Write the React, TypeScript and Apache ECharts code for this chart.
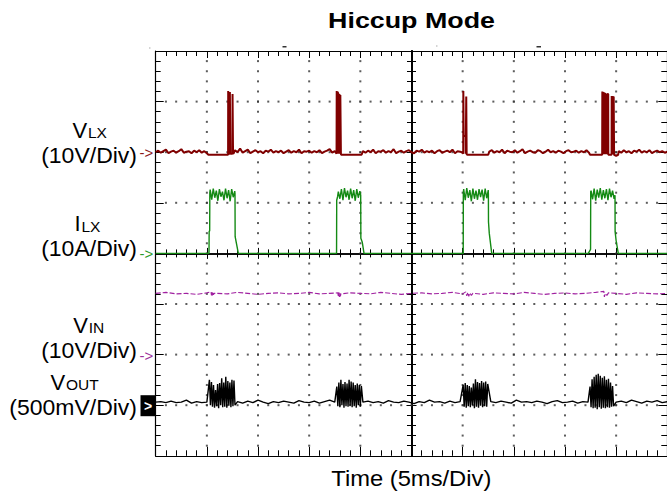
import React, { useEffect, useRef } from 'react';
import * as echarts from 'echarts';

const W = 667;
const H = 492;
const FONT = 'Liberation Sans, Arial, Helvetica, sans-serif';

// ---- texts ----
const titleText = 'Hiccup Mode';
const xTitleText = 'Time (5ms/Div)';
const channelMain = ['V', 'I', 'V', 'V'];
const channelSub = ['LX', 'LX', 'IN', 'OUT'];
const channelScale = ['(10V/Div)', '(10A/Div)', '(10V/Div)', '(500mV/Div)'];
const channelRef = [2, 0, -2, -3]; // reference level of each channel, in divisions
const channelColor = ['#800000', '#148a14', '#a020a0', '#000000'];
const markerColor = ['#8b1a1a', '#2a9a2a', '#9b309b', '#000000'];

// ---- axes (divisions) ----
const xRange = [-5, 5];
const yRange = [-4, 4];
const majorGridX = [-4, -3, -2, -1, 1, 2, 3, 4];
const majorGridY = [-3, -2, -1, 1, 2, 3];

// ---- V_LX (divisions) ----
const vlxNoise1 = [2.00, 2.03, 1.99, 2.02, 2.05, 1.98, 2.01, 2.03, 1.99, 2.02, 2.06, 1.99, 2.01, 2.02, 1.98, 2.03, 2.00, 2.04, 1.99, 2.02, 1.98];
const vlxEdges1 = [[-3.97, 1.95], [-3.585, 1.95], [-3.583, 3.21], [-3.575, 3.21], [-3.573, 1.97], [-3.552, 1.97], [-3.550, 3.19], [-3.542, 3.18], [-3.540, 1.97], [-3.500, 1.97], [-3.498, 3.15], [-3.490, 3.14], [-3.488, 1.97], [-3.47, 1.99]];
const vlxNoise2 = [2.04, 2.00, 2.07, 1.99, 2.02, 2.05, 1.98, 2.01, 2.04, 2.00, 2.02, 1.98, 2.03, 2.01, 2.05, 1.99, 2.02, 2.00, 2.03, 1.98, 2.01, 2.04, 1.99, 2.02, 2.00, 2.05, 1.98, 2.02, 2.01, 2.03, 1.99, 2.02, 2.00, 2.04, 1.98, 2.01, 2.03, 2.06, 1.99, 2.02];
const vlxEdges2 = [[-1.465, 1.97], [-1.462, 3.21], [-1.455, 3.21], [-1.452, 1.97], [-1.447, 1.97], [-1.445, 3.19], [-1.437, 3.17], [-1.434, 1.97], [-1.429, 1.97], [-1.427, 3.16], [-1.419, 3.15], [-1.416, 1.97], [-1.411, 1.97], [-1.409, 3.15], [-1.401, 3.14], [-1.398, 1.97], [-1.393, 1.97], [-1.391, 3.13], [-1.383, 3.12], [-1.380, 1.97], [-1.375, 1.95], [-0.975, 1.95]];
const vlxNoise3 = [2.02, 1.99, 2.03, 2.00, 2.05, 1.98, 2.02, 2.01, 2.04, 1.99, 2.02, 2.00, 2.06, 1.98, 2.01, 2.03, 1.99, 2.02, 2.04, 2.00, 1.98, 2.03, 2.01, 2.05, 1.99, 2.02, 2.00, 2.03, 1.98, 2.02, 2.04, 1.99, 2.01, 2.03, 2.00, 2.05, 1.98, 2.02, 2.01, 1.99];
const vlxEdges3 = [[1.011, 1.97], [1.013, 3.21], [1.018, 3.21], [1.020, 2.32], [1.058, 2.32], [1.060, 1.97], [1.068, 1.97], [1.070, 3.10], [1.076, 3.09], [1.078, 1.96], [1.09, 1.95], [1.50, 1.95]];
const vlxNoise4 = [2.01, 2.04, 1.99, 2.02, 2.00, 2.05, 1.98, 2.03, 2.01, 2.00, 2.04, 1.99, 2.02, 2.06, 1.98, 2.01, 2.03, 2.00, 1.99, 2.04, 2.02, 1.98, 2.01, 2.05, 2.00, 2.02, 1.99, 2.03, 2.01, 1.98, 2.02, 2.04, 2.00, 2.01, 2.03, 1.99, 2.02, 2.00, 2.04, 1.99];
const vlxEdges4 = [[3.49, 1.95], [3.727, 1.95], [3.730, 3.20], [3.738, 3.20], [3.740, 1.96], [3.748, 1.96], [3.750, 3.19], [3.758, 3.19], [3.760, 1.96], [3.768, 1.96], [3.770, 3.18], [3.778, 3.18], [3.780, 1.96], [3.788, 1.96], [3.790, 3.17], [3.798, 3.16], [3.800, 1.96], [3.808, 1.96], [3.810, 3.15], [3.818, 3.15], [3.820, 1.96], [3.828, 1.96], [3.830, 3.15], [3.845, 3.15], [3.847, 1.95], [3.911, 1.95], [3.913, 3.11], [3.921, 3.11], [3.923, 1.96], [3.931, 1.96], [3.933, 3.11], [3.941, 3.10], [3.943, 1.96], [3.950, 1.96], [3.952, 3.10], [3.958, 3.10], [3.960, 1.95], [4.0, 1.93], [4.04, 1.95]];
const vlxNoise5 = [2.02, 1.99, 2.04, 2.00, 2.02, 1.98, 2.03, 2.01, 2.05, 1.99, 2.02, 2.00, 2.04, 1.98, 2.01, 2.03, 2.00, 2.02, 1.99, 2.01];

// ---- I_LX ----
const ilxEdges0 = [[-5, 0], [-3.96, 0], [-3.958, 0.04], [-3.955, 0.43], [-3.945, 0.45], [-3.942, 1.2]];
const ilxTop1 = [1.26, 1.06, 1.28, 1.10, 1.24, 1.04, 1.27, 1.12, 1.22, 1.05, 1.28, 1.09, 1.25, 1.03, 1.27, 1.11, 1.23];
const ilxEdges1 = [[-3.450, 1.18], [-3.447, 0.33], [-3.385, 0], [-1.465, 0], [-1.462, 1.05], [-1.445, 1.12]];
const ilxTop2 = [1.22, 1.08, 1.27, 1.05, 1.29, 1.11, 1.24, 1.06, 1.28, 1.09, 1.25, 1.04, 1.27, 1.10, 1.23];
const ilxEdges2 = [[-0.993, 1.15], [-0.990, 0.30], [-0.962, 0.22], [-0.928, 0], [1.011, 0], [1.013, 1.2]];
const ilxTop3 = [1.27, 1.05, 1.29, 1.10, 1.25, 1.03, 1.28, 1.08, 1.24, 1.06, 1.27, 1.11, 1.26, 1.04, 1.28, 1.09, 1.25];
const ilxEdges3 = [[1.503, 1.18], [1.505, 0.62], [1.52, 0.40], [1.568, 0], [3.456, 0], [3.500, 0.08], [3.503, 1.22]];
const ilxTop4 = [1.24, 1.07, 1.28, 1.04, 1.26, 1.10, 1.29, 1.06, 1.25, 1.09, 1.27, 1.05, 1.28, 1.11, 1.24, 1.08];
const ilxEdges4 = [[3.978, 1.15], [3.980, 0.43], [4.0, 0.25], [4.042, 0], [5, 0]];

// ---- V_IN ----
const vinBase = [-0.79, -0.77, -0.80, -0.79, -0.81, -0.78, -0.79, -0.80, -0.77, -0.79, -0.81, -0.79, -0.78, -0.80, -0.79, -0.77, -0.80, -0.79, -0.81, -0.78, -0.79, -0.80, -0.77, -0.79, -0.81, -0.79, -0.78, -0.80, -0.79, -0.77, -0.80, -0.79, -0.81, -0.78, -0.79, -0.80, -0.77, -0.79, -0.81, -0.79, -0.78, -0.80, -0.79, -0.77, -0.80, -0.79, -0.81, -0.78, -0.79, -0.80, -0.79];
const vinBlob1 = [[-3.92, -0.76], [-3.91, -0.83], [-3.90, -0.76], [-3.89, -0.83], [-3.88, -0.77], [-3.87, -0.82], [-3.86, -0.79]];
const vinBlob2 = [[-1.44, -0.78], [-1.43, -0.86], [-1.42, -0.77], [-1.41, -0.86], [-1.40, -0.78], [-1.39, -0.85], [-1.38, -0.80]];
const vinBlob3 = [[1.06, -0.76], [1.08, -0.84], [1.10, -0.77], [1.12, -0.85], [1.14, -0.78], [1.17, -0.83], [1.22, -0.79]];
const vinBlob4 = [[3.76, -0.75], [3.77, -0.86], [3.79, -0.79], [3.82, -0.83], [3.85, -0.78]];

// ---- V_OUT ----
const voutBase1 = [-2.94, -2.93, -2.95, -2.92, -2.95, -2.94, -2.90, -2.96, -2.93, -2.95, -2.94];
const voutBurst1 = [-2.50, -3.00, -2.54, -3.03, -2.60, -3.05, -2.70, -3.02, -2.58, -3.06, -2.56, -3.00, -2.47, -3.04, -2.55, -3.03, -2.44, -3.05, -2.52, -3.01, -2.55, -3.04, -2.50, -3.02, -2.51, -3.00];
const voutBase2 = [-2.93, -2.96, -2.92, -2.95, -2.90, -2.94, -2.97, -2.93, -2.95, -2.92, -2.94, -2.96, -2.91, -2.94, -2.95, -2.92, -2.96, -2.93, -2.90, -2.94];
const voutBurst2 = [-2.63, -3.02, -2.55, -3.04, -2.50, -3.00, -2.58, -3.05, -2.54, -3.02, -2.57, -3.03, -2.50, -3.01, -2.53, -3.04, -2.55, -3.02, -2.60, -3.05, -2.57, -3.00, -2.60, -3.03, -2.62];
const voutBase3 = [-2.94, -2.92, -2.95, -2.93, -2.96, -2.91, -2.94, -2.95, -2.92, -2.94, -2.97, -2.93, -2.95, -2.90, -2.94, -2.93, -2.96, -2.92, -2.95, -2.93];
const voutBurst3 = [-2.60, -3.03, -2.56, -3.05, -2.60, -3.02, -2.62, -3.04, -2.65, -3.00, -2.57, -3.06, -2.49, -3.03, -2.54, -3.05, -2.56, -3.01, -2.52, -3.04, -2.55, -3.02, -2.53, -3.03, -2.58];
const voutBase4 = [-2.93, -2.95, -2.92, -2.94, -2.96, -2.90, -2.94, -2.93, -2.95, -2.92, -2.94, -2.97, -2.93, -2.91, -2.95, -2.94, -2.92, -2.96, -2.93, -2.94];
const voutBurst4 = [-2.63, -3.04, -2.49, -3.06, -2.44, -3.05, -2.40, -3.08, -2.38, -3.04, -2.42, -3.07, -2.46, -3.05, -2.43, -3.06, -2.50, -3.04, -2.48, -3.05, -2.55, -3.03, -2.62, -3.02];
const voutBase5 = [-2.94, -2.92, -2.95, -2.90, -2.93, -2.96, -2.92, -2.94, -2.91, -2.95, -2.93];

// sampled segment: values at a fixed sample interval starting at t0
const seq = (t0: number, dt: number, vals: number[]) =>
  vals.map((v, i) => [Math.round((t0 + i * dt) * 10000) / 10000, v]);

const vlxData = [
  ...seq(-5, 0.05, vlxNoise1), ...vlxEdges1,
  ...seq(-3.45, 0.05, vlxNoise2), ...vlxEdges2,
  ...seq(-0.95, 0.05, vlxNoise3), ...vlxEdges3,
  ...seq(1.52, 0.05, vlxNoise4), ...vlxEdges4,
  ...seq(4.05, 0.05, vlxNoise5),
];
const ilxData = [
  ...ilxEdges0, ...seq(-3.935, 0.03, ilxTop1),
  ...ilxEdges1, ...seq(-1.43, 0.03, ilxTop2),
  ...ilxEdges2, ...seq(1.02, 0.03, ilxTop3),
  ...ilxEdges3, ...seq(3.51, 0.03, ilxTop4),
  ...ilxEdges4,
];
const vinData = [...seq(-5, 0.2, vinBase), ...vinBlob1, ...vinBlob2, ...vinBlob3, ...vinBlob4]
  .sort((a, b) => a[0] - b[0]);
const voutData = [
  ...seq(-5, 0.1, voutBase1), ...seq(-3.95, 0.02, voutBurst1),
  ...seq(-3.4, 0.1, voutBase2), ...seq(-1.46, 0.02, voutBurst2),
  ...seq(-0.95, 0.1, voutBase3), ...seq(1.01, 0.02, voutBurst3),
  ...seq(1.55, 0.1, voutBase4), ...seq(3.49, 0.02, voutBurst4),
  ...seq(4.0, 0.1, voutBase5),
];

// grid dots along major divisions at every minor (1/5) step
const dotData: number[][] = [];
majorGridX.forEach((x) => { for (let k = -19; k <= 19; k++) dotData.push([x, k / 5]); });
majorGridY.forEach((y) => { for (let k = -24; k <= 24; k++) dotData.push([k / 5, y]); });

// ---- layout ----
const GRID = { left: 155.7, top: 51, width: 511.6, height: 404.8 };
const labelLayout = [
  { mainX: 72.5, line1: 138.3, line2: 163.4 },
  { mainX: 74.5, line1: 231.5, line2: 256.6 },
  { mainX: 73.2, line1: 332.8, line2: 358.5 },
  { mainX: 50.5, line1: 390.3, line2: 415.4 },
];
const scaleRight = 137;
const MAIN_SIZE = 22;
const SUB_SIZE = 15.5;

function mkX(position: string, onZero: boolean, inside: boolean, len: number, minorLen: number, width: number) {
  return {
    type: 'value', min: xRange[0], max: xRange[1], interval: 1, position,
    axisLine: { show: true, onZero, ...(onZero ? { onZeroAxisIndex: 0 } : {}), lineStyle: { color: '#000', width } },
    axisTick: { show: true, inside, length: len, lineStyle: { color: '#000', width: 1 } },
    minorTick: { show: true, splitNumber: 5, length: minorLen, lineStyle: { color: '#000', width: 1 } },
    axisLabel: { show: false }, splitLine: { show: false }, minorSplitLine: { show: false },
  };
}
function mkY(position: string, onZero: boolean, inside: boolean, len: number, minorLen: number, width: number) {
  return {
    type: 'value', min: yRange[0], max: yRange[1], interval: 1, position,
    axisLine: { show: true, onZero, ...(onZero ? { onZeroAxisIndex: 0 } : {}), lineStyle: { color: '#000', width } },
    axisTick: { show: true, inside, length: len, lineStyle: { color: '#000', width: 1 } },
    minorTick: { show: true, splitNumber: 5, length: minorLen, lineStyle: { color: '#000', width: 1 } },
    axisLabel: { show: false }, splitLine: { show: false }, minorSplitLine: { show: false },
  };
}

function txt(text: string, x: number, baseline: number, size: number, o: any = {}) {
  const { align = 'left', weight = 'normal', fill = '#000', scaleX = 1 } = o;
  return {
    type: 'text', x, y: baseline - 0.3465 * size, scaleX, silent: true, z: 10,
    style: {
      text, x: 0, y: 0, fill, fontFamily: FONT, fontSize: size, fontWeight: weight,
      align, verticalAlign: 'middle', textAlign: align, textVerticalAlign: 'middle',
    },
  };
}

function lineSeries(data: number[][], color: string, width: number, z: number, type: any = 'solid') {
  return {
    type: 'line', xAxisIndex: 0, yAxisIndex: 0, data, showSymbol: false, symbol: 'none',
    lineStyle: { color, width, type }, itemStyle: { color }, z, silent: true, animation: false,
  };
}

export default function App() {
  const ref = useRef<HTMLDivElement>(null);
  useEffect(() => {
    const el = ref.current!;
    const chart = echarts.init(el, null, { renderer: 'svg', width: W, height: H });
    chart.setOption({
      animation: false,
      backgroundColor: '#ffffff',
      grid: { ...GRID, containLabel: false, outerBoundsMode: 'none' },
      xAxis: [
        mkX('bottom', false, true, 9, 5.5, 1.2),
        mkX('top', false, true, 7, 5, 1.2),
        mkX('bottom', true, true, 5.5, 4, 1.6),
        mkX('bottom', true, false, 5.5, 4, 1.6),
      ],
      yAxis: [
        mkY('left', false, true, 8, 5, 1.2),
        mkY('right', false, true, 9, 6, 1.2),
        mkY('left', true, true, 5, 4.5, 1.8),
        mkY('left', true, false, 5, 4.5, 1.8),
      ],
      series: [
        {
          type: 'scatter', xAxisIndex: 0, yAxisIndex: 0, data: dotData, symbol: 'rect', symbolSize: 2,
          itemStyle: { color: '#333' }, z: 1, silent: true,
        },
        lineSeries(vinData, channelColor[2], 1.1, 3, [5, 2]),
        lineSeries(voutData, channelColor[3], 1.4, 4),
        lineSeries(ilxData, channelColor[1], 1.4, 5),
        lineSeries(vlxData, channelColor[0], 2, 6),
      ],
    });

    const yPix = (v: number) => chart.convertToPixel({ yAxisIndex: 0 }, v) as number;
    const ctx = document.createElement('canvas').getContext('2d')!;
    const graphics: any[] = [];

    graphics.push(txt(titleText, 411.5, 27.7, 22, { align: 'center', weight: 'bold', scaleX: 1.22 }));
    graphics.push(txt(xTitleText, 411.3, 486, 22, { align: 'center', scaleX: 1.08 }));

    channelMain.forEach((m, i) => {
      const L = labelLayout[i];
      ctx.font = `${MAIN_SIZE}px ${FONT}`;
      const adv = ctx.measureText(m).width;
      graphics.push(txt(m, L.mainX, L.line1, MAIN_SIZE));
      graphics.push(txt(channelSub[i], L.mainX + adv + 0.8, L.line1, SUB_SIZE));
      graphics.push(txt(channelScale[i], scaleRight, L.line2, MAIN_SIZE, { align: 'right', scaleX: 1.045 }));
      const y = yPix(channelRef[i]);
      if (i < 3) {
        graphics.push({
          type: 'text', x: 139.5, y: y + 0.5, silent: true, z: 10,
          style: { text: '->', x: 0, y: 0, fill: markerColor[i], fontFamily: FONT, fontSize: 15, align: 'left', verticalAlign: 'middle', textAlign: 'left', textVerticalAlign: 'middle' },
        });
      } else {
        graphics.push({ type: 'rect', silent: true, z: 10, shape: { x: 140.5, y: y - 10, width: 14.5, height: 21 }, style: { fill: '#000' } });
        graphics.push({
          type: 'text', x: 148, y: y + 0.5, silent: true, z: 11,
          style: { text: '>', x: 0, y: 0, fill: '#fff', fontFamily: FONT, fontSize: 14, fontWeight: 'bold', align: 'center', verticalAlign: 'middle', textAlign: 'center', textVerticalAlign: 'middle' },
        });
      }
    });

    // small trigger marks above the frame
    graphics.push({ type: 'rect', silent: true, shape: { x: 282.5, y: 46, width: 4, height: 1.5 }, style: { fill: '#333' } });
    graphics.push({ type: 'rect', silent: true, shape: { x: 536.5, y: 46, width: 4.5, height: 1.5 }, style: { fill: '#333' } });
    graphics.push({ type: 'rect', silent: true, shape: { x: 436, y: 45.5, width: 1.5, height: 1 }, style: { fill: '#aaa' } });
    graphics.push({ type: 'rect', silent: true, shape: { x: 149, y: 47.5, width: 1.5, height: 1 }, style: { fill: '#aaa' } });

    chart.setOption({ graphic: graphics });
    return () => chart.dispose();
  }, []);
  return <div ref={ref} style={{ position: 'absolute', left: 0, top: 0, width: W, height: H, background: '#fff' }} />;
}
